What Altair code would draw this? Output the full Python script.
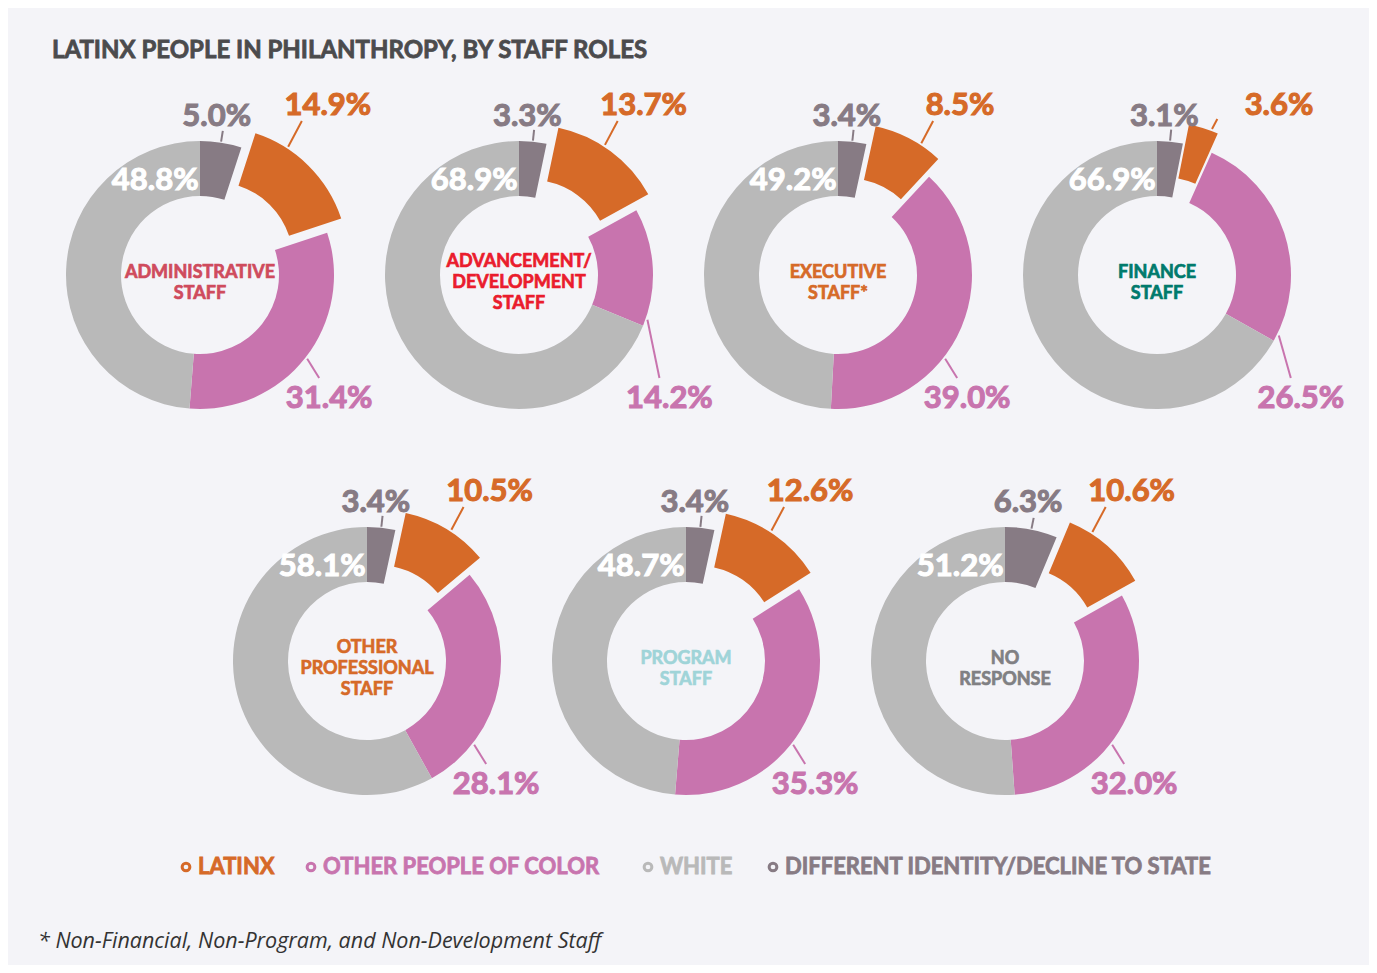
import math
import pandas as pd
import altair as alt

# ---------------- data ----------------
roles = ["ADMINISTRATIVE\nSTAFF", "ADVANCEMENT/\nDEVELOPMENT\nSTAFF", "EXECUTIVE\nSTAFF*",
         "FINANCE\nSTAFF", "OTHER\nPROFESSIONAL\nSTAFF", "PROGRAM\nSTAFF", "NO\nRESPONSE"]
latinx = [14.9, 13.7, 8.5, 3.6, 10.5, 12.6, 10.6]
other_poc = [31.4, 14.2, 39.0, 26.5, 28.1, 35.3, 32.0]
white = [48.8, 68.9, 49.2, 66.9, 58.1, 48.7, 51.2]
different = [5.0, 3.3, 3.4, 3.1, 3.4, 3.4, 6.3]

categories = ["LATINX", "OTHER PEOPLE OF COLOR", "WHITE", "DIFFERENT IDENTITY/DECLINE TO STATE"]
title_text = "LATINX PEOPLE IN PHILANTHROPY, BY STAFF ROLES"
footnote_text = "* Non-Financial, Non-Program, and Non-Development Staff"

# ---------------- styles / layout ----------------
cat_colors = ["#d66a28", "#c874ae", "#b9b9b9", "#877b84"]
role_colors = ["#cf4b5d", "#ea1c2d", "#d66a28", "#007a6c", "#d66a28", "#9fd4d8", "#808083"]
centers = [(192, 267), (511, 267), (830, 267), (1149, 267), (359, 653), (678, 653), (997, 653)]
legend_symbol_x = [178, 303, 640, 765]
legend_y = 859
R_OUT, R_IN, EXPLODE = 134, 79, 20
W, H = 1361, 957
BG = "#f4f4f8"
FONT = "Lato"
CTR_LH = 21

col = dict(zip(categories, cat_colors))
rad = math.radians

arc_rows, lab_rows, line_rows, ctr_rows = [], [], [], []
for i, role in enumerate(roles):
    cx, cy = centers[i]
    vals = {"LATINX": latinx[i], "OTHER PEOPLE OF COLOR": other_poc[i],
            "WHITE": white[i], "DIFFERENT IDENTITY/DECLINE TO STATE": different[i]}
    tot = sum(vals.values())
    order = ["DIFFERENT IDENTITY/DECLINE TO STATE", "LATINX", "OTHER PEOPLE OF COLOR", "WHITE"]
    a = 0.0
    ang = {}
    for c in order:
        span = vals[c] / tot * 360
        ang[c] = (a, a + span)
        a += span
    for c in order:
        s, e = ang[c]
        m = (s + e) / 2
        ox = oy = 0.0
        if c == "LATINX":
            ox, oy = EXPLODE * math.sin(rad(m)), -EXPLODE * math.cos(rad(m))
        arc_rows.append(dict(role=i, category=c, cx=cx + ox, cy=cy + oy,
                             t0=rad(s), t1=rad(e)))
    # white label inside ring
    lab_rows.append(dict(x=cx + 106 * math.sin(rad(-25)), y=cy - 106 * math.cos(rad(-25)) + 2,
                         text=f"{vals['WHITE']:.1f}%", fill="#ffffff"))
    # different label + tick
    s, e = ang["DIFFERENT IDENTITY/DECLINE TO STATE"]
    dm = (s + e) / 2
    tx0, ty0 = cx + 135 * math.sin(rad(dm)), cy - 135 * math.cos(rad(dm))
    tx1, ty1 = cx + 146 * math.sin(rad(dm)), cy - 146 * math.cos(rad(dm))
    line_rows.append(dict(x=tx0, y=ty0, x2=tx1, y2=ty1, stroke=col["DIFFERENT IDENTITY/DECLINE TO STATE"]))
    lab_rows.append(dict(x=cx + 158 * math.sin(rad(dm)) - 8, y=cy - 158,
                         text=f"{vals['DIFFERENT IDENTITY/DECLINE TO STATE']:.1f}%",
                         fill=col["DIFFERENT IDENTITY/DECLINE TO STATE"]))
    # latinx label + leader
    s, e = ang["LATINX"]
    m = (s + e) / 2
    ecx, ecy = cx + EXPLODE * math.sin(rad(m)), cy - EXPLODE * math.cos(rad(m))
    a_s = min(max(33, s + 3), e - 3)
    sx, sy = ecx + 136 * math.sin(rad(a_s)), ecy - 136 * math.cos(rad(a_s))
    ey = min(cy - 154, sy - 10)
    ex = sx + (sy - ey) * math.tan(rad(28))
    line_rows.append(dict(x=sx, y=sy, x2=ex, y2=ey, stroke=col["LATINX"]))
    lab_rows.append(dict(x=max(cx + 122, ex + 26), y=cy - 169,
                         text=f"{vals['LATINX']:.1f}%", fill=col["LATINX"]))
    # other poc label + leader
    s, e = ang["OTHER PEOPLE OF COLOR"]
    a_p = min(128, e - 3)
    sx, sy = cx + 136 * math.sin(rad(a_p)), cy - 136 * math.cos(rad(a_p))
    lx = max(cx + 126, sx + 22)
    line_rows.append(dict(x=sx, y=sy, x2=lx - 10, y2=cy + 103, stroke=col["OTHER PEOPLE OF COLOR"]))
    lab_rows.append(dict(x=lx, y=cy + 124, text=f"{vals['OTHER PEOPLE OF COLOR']:.1f}%",
                         fill=col["OTHER PEOPLE OF COLOR"]))
    # center label (first line position so that the block is centred)
    n = role.count("\n") + 1
    ctr_rows.append(dict(x=cx, y=cy + 8 - (n - 1) * CTR_LH / 2, text=role, fill=role_colors[i]))

arc_df = pd.DataFrame(arc_rows)
lab_df = pd.DataFrame(lab_rows)
line_df = pd.DataFrame(line_rows)
ctr_df = pd.DataFrame(ctr_rows)
leg_df = pd.DataFrame(dict(category=categories, fill=cat_colors, x=legend_symbol_x,
                           y=[legend_y] * len(categories)))
title_df = pd.DataFrame([dict(x=44, y=43, text=title_text)])
foot_df = pd.DataFrame([dict(x=30, y=934, text=footnote_text)])

X = lambda f: alt.X(f, scale=None, axis=None)
Y = lambda f: alt.Y(f, scale=None, axis=None)

arcs = alt.Chart(arc_df).mark_arc(radius=R_OUT, radius2=R_IN).encode(
    x=X("cx:Q"), y=Y("cy:Q"),
    theta=alt.Theta("t0:Q", scale=None, stack=None), theta2="t1:Q",
    fill=alt.Fill("category:N", scale=alt.Scale(domain=categories, range=cat_colors), legend=None),
)

lines = alt.Chart(line_df).mark_rule(strokeWidth=2).encode(
    x=X("x:Q"), y=Y("y:Q"), x2="x2:Q", y2="y2:Q",
    stroke=alt.Stroke("stroke:N", scale=None),
)

labels = alt.Chart(lab_df).mark_text(font=FONT, fontWeight="bold", fontSize=31, strokeWidth=1.1,
                                     align="center", baseline="middle").encode(
    x=X("x:Q"), y=Y("y:Q"), text="text:N", fill=alt.Fill("fill:N", scale=None),
    stroke=alt.Stroke("fill:N", scale=None),
)

ctr = alt.Chart(ctr_df).mark_text(font=FONT, fontWeight="bold", fontSize=18, lineHeight=CTR_LH,
                                  strokeWidth=0.7, lineBreak="\n", align="center",
                                  baseline="middle").encode(
    x=X("x:Q"), y=Y("y:Q"), text="text:N", fill=alt.Fill("fill:N", scale=None),
    stroke=alt.Stroke("fill:N", scale=None),
)

leg_sym = alt.Chart(leg_df).mark_point(shape="circle", filled=False, size=60, strokeWidth=3,
                                       opacity=1).encode(
    x=X("x:Q"), y=Y("y:Q"), stroke=alt.Stroke("fill:N", scale=None))

leg_txt = alt.Chart(leg_df).mark_text(font=FONT, fontWeight="bold", fontSize=22, strokeWidth=0.8,
                                      align="left", baseline="middle", dx=12).encode(
    x=X("x:Q"), y=Y("y:Q"), text="category:N", fill=alt.Fill("fill:N", scale=None),
    stroke=alt.Stroke("fill:N", scale=None))

title = alt.Chart(title_df).mark_text(font=FONT, fontWeight="bold", fontSize=24, color="#4b4b4d",
                                      stroke="#4b4b4d", strokeWidth=0.8,
                                      align="left", baseline="middle").encode(
    x=X("x:Q"), y=Y("y:Q"), text="text:N")

foot = alt.Chart(foot_df).mark_text(font="Open Sans", fontStyle="italic", fontSize=21.5,
                                    color="#333333", align="left", baseline="middle").encode(
    x=X("x:Q"), y=Y("y:Q"), text="text:N")

chart = alt.layer(arcs, lines, labels, ctr, leg_sym, leg_txt, title, foot).properties(
    width=W, height=H, background=BG, padding=0,
    autosize=alt.AutoSizeParams(type="none"),
).configure_view(stroke=None)

chart.save("out.html", embed_options={"renderer": "svg", "actions": False})
